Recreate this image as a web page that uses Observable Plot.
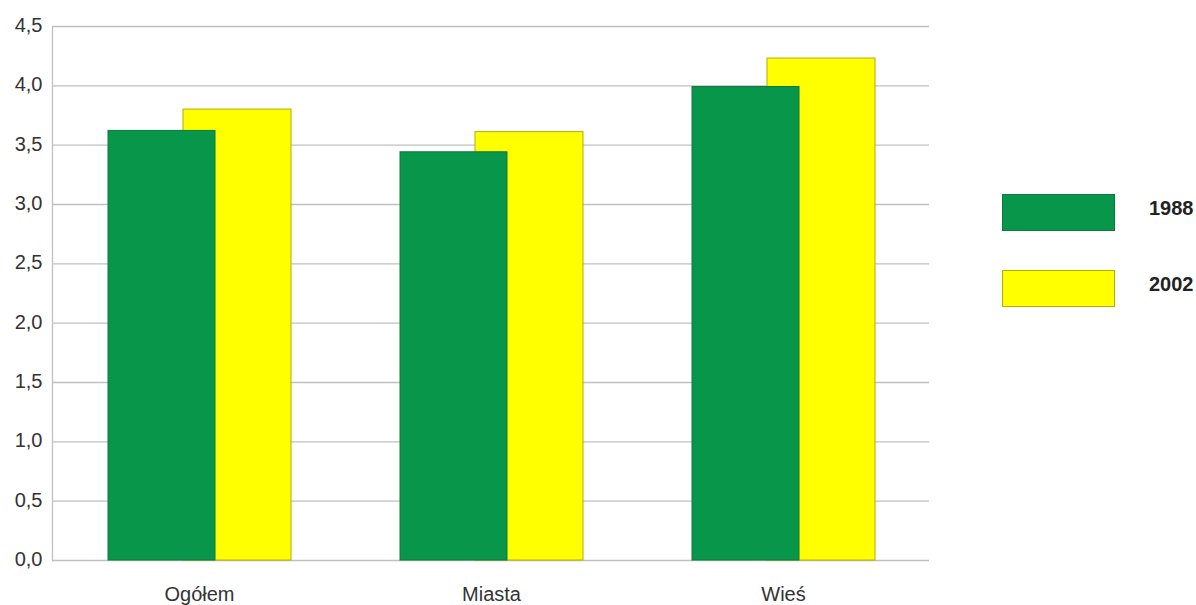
<!DOCTYPE html>
<html>
<head>
<meta charset="utf-8">
<script src="https://cdn.jsdelivr.net/npm/d3@7"></script>
<script src="https://cdn.jsdelivr.net/npm/@observablehq/plot@0.6"></script>
<style>
  html, body { margin: 0; padding: 0; background: #fff; }
  #wrap { position: relative; width: 1196px; height: 605px; overflow: hidden; font-family: "Liberation Sans", Arial, sans-serif; }
  .sw { position: absolute; left: 1002px; width: 113px; height: 37px; box-sizing: border-box; }
  .lt { position: absolute; left: 1149px; font-weight: bold; font-size: 20px; color: #222; line-height: 20px; white-space: nowrap; }
</style>
</head>
<body>
<div id="wrap"></div>
<script>
const categories = ["Ogółem", "Miasta", "Wieś"];
const series = ["1988", "2002"];
const v1988 = [3.62, 3.44, 3.99];
const v2002 = [3.80, 3.61, 4.23];
const yTicks = [0, 0.5, 1, 1.5, 2, 2.5, 3, 3.5, 4, 4.5];
const colors = {"1988": "#08964A", "2002": "#FFFF00"};
const strokes = {"1988": "#0B7A3C", "2002": "#B3AE00"};

const d1988 = categories.map((c, i) => ({cat: c, value: v1988[i]}));
const d2002 = categories.map((c, i) => ({cat: c, value: v2002[i]}));

const chart = Plot.plot({
  width: 1196,
  height: 605,
  marginLeft: 52,
  marginRight: 267,
  marginTop: 26,
  marginBottom: 45,
  style: {fontFamily: "'Liberation Sans', Arial, sans-serif", fontSize: "20px", color: "#333", background: "#fff"},
  x: {domain: categories, padding: 0},
  y: {domain: [0, 4.5]},
  marks: [
    Plot.ruleY(yTicks, {stroke: "#c0c0c0", strokeWidth: 1.3, strokeOpacity: 1}),
    Plot.frame({anchor: "left", stroke: "#c0c0c0", strokeWidth: 1.3}),
    Plot.barY(d2002, {x: "cat", y: "value", fill: colors["2002"], stroke: strokes["2002"], strokeWidth: 1, insetLeft: 130, insetRight: 54}),
    Plot.barY(d1988, {x: "cat", y: "value", fill: colors["1988"], stroke: strokes["1988"], strokeWidth: 1, insetLeft: 55, insetRight: 130}),
    Plot.axisX({tickSize: 0, tickPadding: 26, label: null, fill: "#333", fontSize: 20}),
    Plot.axisY({ticks: yTicks, tickSize: 0, tickPadding: 10, label: null, dy: -1, fill: "#333", fontSize: 20,
      tickFormat: d => d.toFixed(1).replace(".", ",")})
  ]
});
const wrap = document.getElementById("wrap");
wrap.appendChild(chart);

const tops = [194, 270];
series.forEach((s, i) => {
  const sw = document.createElement("div");
  sw.className = "sw";
  sw.style.top = tops[i] + "px";
  sw.style.background = colors[s];
  sw.style.border = "1px solid " + strokes[s];
  wrap.appendChild(sw);
  const t = document.createElement("div");
  t.className = "lt";
  t.style.top = (tops[i] + 4) + "px";
  t.textContent = s;
  wrap.appendChild(t);
});
</script>
</body>
</html>
